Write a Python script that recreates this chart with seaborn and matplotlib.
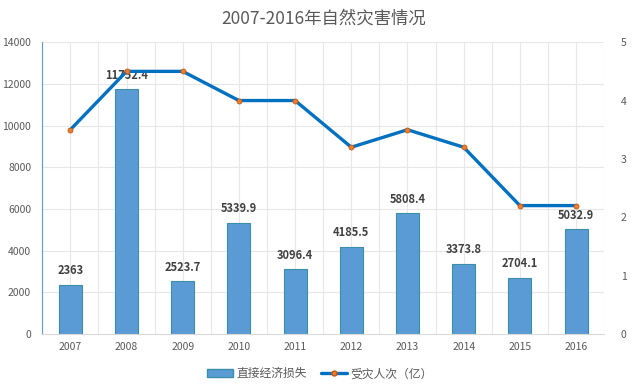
import matplotlib
matplotlib.use("Agg")
import matplotlib.pyplot as plt
from matplotlib.lines import Line2D
from matplotlib.patches import Patch
import pandas as pd
import seaborn as sns

years = ['2007', '2008', '2009', '2010', '2011', '2012', '2013', '2014', '2015', '2016']
loss = [2363, 11752.4, 2523.7, 5339.9, 3096.4, 4185.5, 5808.4, 3373.8, 2704.1, 5032.9]
people = [3.5, 4.5, 4.5, 4.0, 4.0, 3.2, 3.5, 3.2, 2.2, 2.2]
loss_labels = ['2363', '11752.4', '2523.7', '5339.9', '3096.4', '4185.5', '5808.4', '3373.8', '2704.1', '5032.9']

sns.set_style("white")
plt.rcParams['font.family'] = ['Noto Sans CJK SC', 'DejaVu Sans']

df = pd.DataFrame({'year': years, 'loss': loss, 'people': people})

fig = plt.figure(figsize=(6.4, 3.87), dpi=100)
ax = fig.add_axes([0.066, 0.137, 0.878, 0.754])

bar_color = '#5B9BD5'
line_color = '#0070C0'
marker_color = '#ED7D31'
grid_color = '#E7E7E7'
text_color = '#595959'

sns.barplot(data=df, x='year', y='loss', color=bar_color, width=0.41,
            edgecolor='#3A8FA8', linewidth=0.8, saturation=1, ax=ax, zorder=2)
ax.set_ylim(0, 14000)
ax.set_yticks(range(0, 14001, 2000))
ax.set_xlim(-0.5, 9.5)

# vertical grid at every half category
for i in range(21):
    ax.axvline(-0.5 + i * 0.5, color=grid_color, lw=0.8, zorder=0)
ax.yaxis.grid(True, color=grid_color, lw=0.8)
ax.set_axisbelow(True)

for i, v in enumerate(loss):
    ax.text(i, v + 350, loss_labels[i], ha='center', va='bottom', fontsize=8,
            fontweight='bold', color='#404040', zorder=5)

ax2 = ax.twinx()
sns.pointplot(data=df, x='year', y='people', color=line_color, ax=ax2,
              markers='o', linestyles='-', linewidth=2.4, markersize=4)
for ln in ax2.lines:
    ln.set_markerfacecolor(marker_color)
    ln.set_markeredgecolor('#C55A11')
    ln.set_markeredgewidth(0.6)
    ln.set_markersize(3.6)
ax2.set_ylim(0, 5)
ax2.set_yticks(range(0, 6))
ax2.set_xlim(-0.5, 9.5)

for a in (ax, ax2):
    for s in a.spines.values():
        s.set_visible(False)
    a.set_xlabel('')
    a.set_ylabel('')
    a.tick_params(axis='both', length=0, labelsize=7.5, colors=text_color, pad=6)
ax.spines['left'].set_visible(True)
ax.spines['left'].set_color('#5B9BD5')
ax.spines['bottom'].set_visible(True)
ax.spines['bottom'].set_color('#D9D9D9')
ax.tick_params(axis='y', pad=8)
ax2.tick_params(axis='y', pad=12)

fig.suptitle('2007-2016年自然灾害情况', x=0.505, y=0.975, fontsize=12.5, color=text_color)

handles = [Patch(facecolor=bar_color, edgecolor='#3A8FA8', label='直接经济损失'),
           Line2D([0], [0], color=line_color, lw=2.4, marker='o', markersize=3.6,
                  markerfacecolor=marker_color, markeredgecolor='#C55A11',
                  label='受灾人次（亿）')]
fig.legend(handles=handles, loc='lower center', bbox_to_anchor=(0.5, -0.01), ncol=2,
           frameon=False, fontsize=8.5, labelcolor=text_color, handlelength=2.2,
           columnspacing=1.2, handletextpad=0.3)

fig.savefig('out.png', dpi=100)
